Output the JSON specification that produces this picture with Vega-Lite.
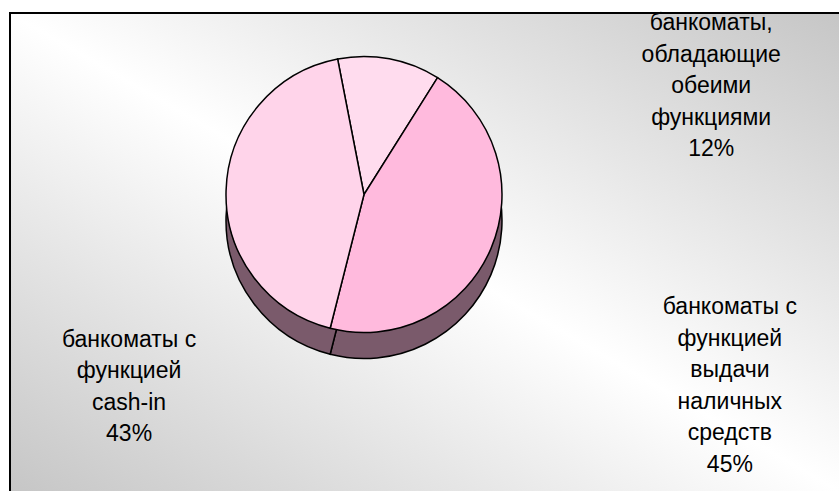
{
  "$schema": "https://vega.github.io/schema/vega-lite/v6.json",
  "width": 839,
  "height": 491,
  "autosize": {"type": "fit", "contains": "padding"},
  "padding": {"left": 9, "top": 12, "right": 0, "bottom": 0},
  "background": "white",
  "config": {"view": {"stroke": null}},
  "layer": [
    {
      "data": {"values": [{"panel": "frame"}]},
      "layer": [
        {
          "mark": {"type": "rect", "fill": "black"},
          "encoding": {
            "x": {"value": 0}, "x2": {"value": "width"},
            "y": {"value": 0}, "y2": {"value": "height"}
          }
        },
        {
          "mark": {
            "type": "rect",
            "fill": {
              "gradient": "linear",
              "x1": 1, "y1": 0, "x2": 0, "y2": 1,
              "stops": [
                {"offset": 0, "color": "#c6c6c6"},
                {"offset": 0.5, "color": "#ffffff"},
                {"offset": 1, "color": "#c6c6c6"}
              ]
            }
          },
          "encoding": {
            "x": {"value": 2}, "x2": {"value": "width"},
            "y": {"value": 2}, "y2": {"value": "height"}
          }
        }
      ]
    },
    {
      "data": {
        "values": [
          {"segment": "both", "label": "банкоматы,\nобладающие\nобеими\nфункциями\n12%", "share": 12},
          {"segment": "cash_out", "label": "банкоматы с\nфункцией\nвыдачи\nналичных\nсредств\n45%", "share": 45},
          {"segment": "cash_in", "label": "банкоматы с\nфункцией\ncash-in\n43%", "share": 43}
        ]
      },
      "encoding": {
        "theta": {"field": "share", "type": "quantitative", "stack": true, "scale": {"range": [-0.192, 6.091]}},
        "order": {"field": "label", "type": "ordinal", "sort": "descending"}
      },
      "layer": [
        {
          "mark": {"type": "arc", "radius": 138, "xOffset": -60, "yOffset": -31, "fill": "#7a5a6b", "stroke": "black", "strokeWidth": 1.5}
        },
        {
          "mark": {"type": "arc", "radius": 138, "xOffset": -60, "yOffset": -57, "stroke": "black", "strokeWidth": 1.5},
          "encoding": {
            "fill": {
              "field": "segment",
              "type": "nominal",
              "legend": null,
              "scale": {"domain": ["both", "cash_out", "cash_in"], "range": ["#ffdcee", "#ffbadd", "#ffd4ea"]}
            }
          }
        },
        {
          "mark": {
            "type": "text",
            "radius": 175,
            "xOffset": -60,
            "yOffset": -58,
            "font": "Liberation Sans",
            "fontSize": 23,
            "lineHeight": 31.5,
            "lineBreak": "\n",
            "align": "center",
            "baseline": "alphabetic",
            "fill": "black",
            "dx": {"expr": "datum.segment == 'both' ? 315 : datum.segment == 'cash_out' ? 205 : -60"},
            "dy": {"expr": "datum.segment == 'both' ? 9 : datum.segment == 'cash_out' ? 52 : 158"}
          },
          "encoding": {"text": {"field": "label", "type": "nominal"}}
        }
      ]
    }
  ]
}
